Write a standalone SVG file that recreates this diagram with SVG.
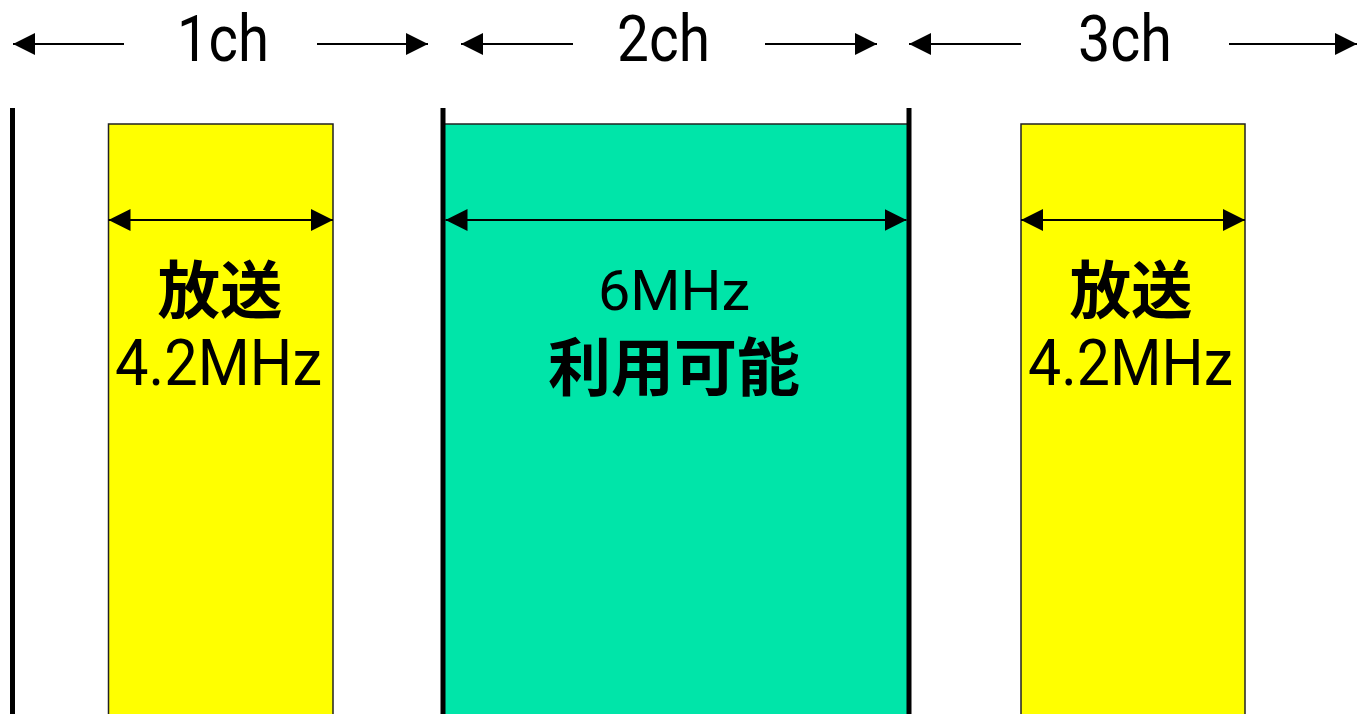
<svg xmlns="http://www.w3.org/2000/svg" width="1366" height="714" viewBox="0 0 1366 714">
<style>
.lat{font-family:Roboto,"Liberation Sans",sans-serif;fill:#000}
.jp{font-family:"Noto Sans CJK JP",sans-serif;font-weight:bold;fill:#000}
.ln{stroke:#000;stroke-width:2;fill:none}
.bar{stroke:#000;stroke-width:5}
.box{stroke:#222;stroke-width:1.5}
</style>
<defs>
<marker id="ah" markerUnits="userSpaceOnUse" markerWidth="22" markerHeight="22" viewBox="0 0 20 20" refX="20" refY="10" orient="auto-start-reverse">
<path d="M0,0 L20,10 L0,20 Z" fill="#000"/>
</marker>
</defs>
<rect width="1366" height="714" fill="#fff"/>
<g id="band1">
<rect class="box" x="108.5" y="124" width="224.5" height="600" fill="#ffff00"/>
<text class="jp" x="220" y="313" font-size="63" text-anchor="middle" textLength="125" lengthAdjust="spacingAndGlyphs">放送</text>
<text class="lat" x="218.5" y="385" font-size="64" text-anchor="middle" textLength="207" lengthAdjust="spacingAndGlyphs">4.2MHz</text>
</g>
<g id="band2">
<rect class="box" x="443" y="124" width="466" height="600" fill="#00e5a9"/>
<text class="lat" x="674" y="310" font-size="55" text-anchor="middle" textLength="152" lengthAdjust="spacingAndGlyphs">6MHz</text>
<text class="jp" x="674" y="390" font-size="63" text-anchor="middle" textLength="252" lengthAdjust="spacingAndGlyphs">利用可能</text>
</g>
<g id="band3">
<rect class="box" x="1021" y="124" width="224" height="600" fill="#ffff00"/>
<text class="jp" x="1131" y="313" font-size="63" text-anchor="middle" textLength="123" lengthAdjust="spacingAndGlyphs">放送</text>
<text class="lat" x="1130.5" y="385" font-size="64" text-anchor="middle" textLength="205" lengthAdjust="spacingAndGlyphs">4.2MHz</text>
</g>
<g id="labels">
<text class="lat" x="223" y="61" font-size="64" text-anchor="middle" textLength="92" lengthAdjust="spacingAndGlyphs">1ch</text>
<text class="lat" x="663.5" y="61" font-size="64" text-anchor="middle" textLength="93" lengthAdjust="spacingAndGlyphs">2ch</text>
<text class="lat" x="1125" y="61" font-size="64" text-anchor="middle" textLength="94" lengthAdjust="spacingAndGlyphs">3ch</text>
</g>
<g id="connectors">
<line class="bar" x1="12.5" y1="108" x2="12.5" y2="714"/>
<line class="bar" x1="443" y1="108" x2="443" y2="714"/>
<line class="bar" x1="909" y1="108" x2="909" y2="714"/>
<line class="ln" x1="124" y1="44" x2="13" y2="44" marker-end="url(#ah)"/>
<line class="ln" x1="317" y1="44" x2="428" y2="44" marker-end="url(#ah)"/>
<line class="ln" x1="573" y1="44" x2="461" y2="44" marker-end="url(#ah)"/>
<line class="ln" x1="765" y1="44" x2="877" y2="44" marker-end="url(#ah)"/>
<line class="ln" x1="1021" y1="44" x2="909" y2="44" marker-end="url(#ah)"/>
<line class="ln" x1="1229" y1="44" x2="1357" y2="44" marker-end="url(#ah)"/>
<line class="ln" x1="108.5" y1="220" x2="333" y2="220" marker-start="url(#ah)" marker-end="url(#ah)"/>
<line class="ln" x1="445.5" y1="220" x2="906.5" y2="220" marker-start="url(#ah)" marker-end="url(#ah)"/>
<line class="ln" x1="1021" y1="220" x2="1245" y2="220" marker-start="url(#ah)" marker-end="url(#ah)"/>
</g>
</svg>
